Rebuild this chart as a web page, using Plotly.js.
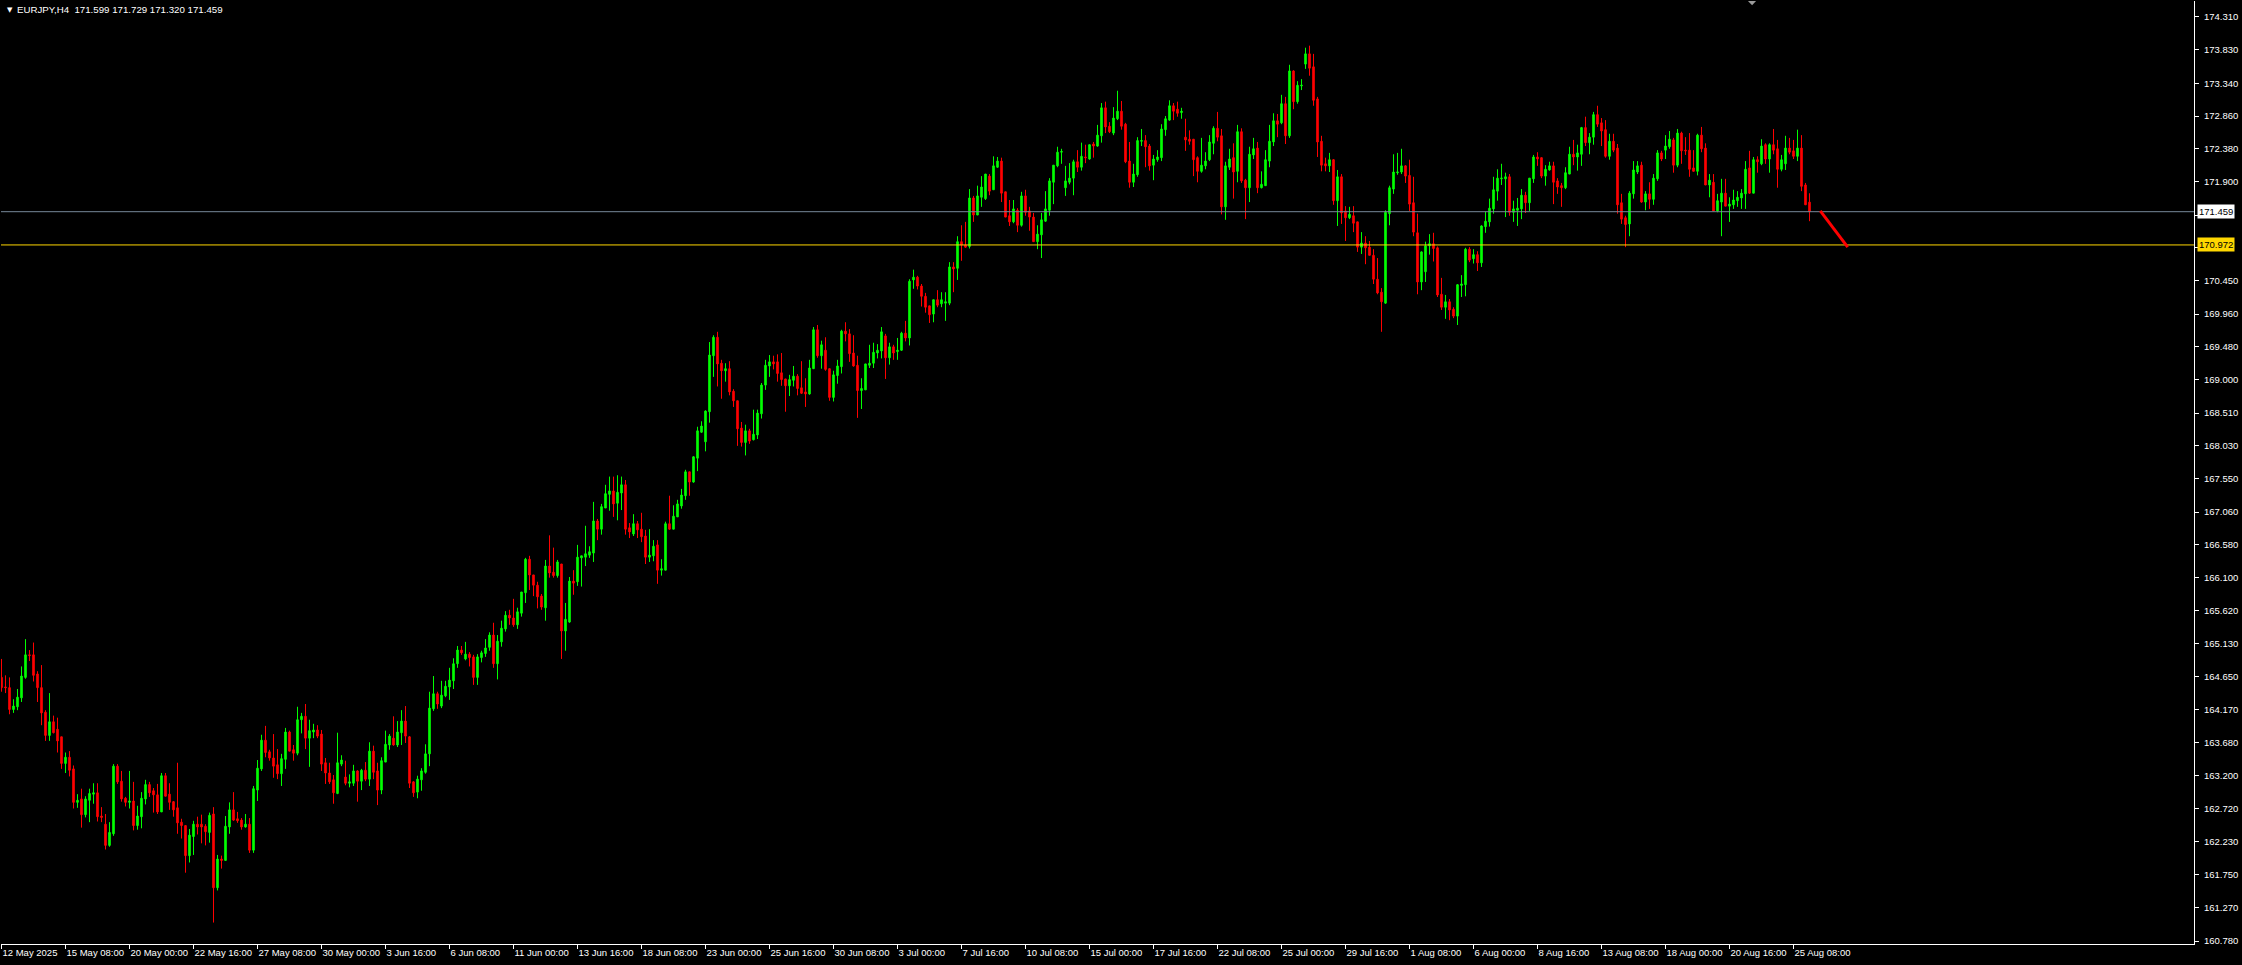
<!DOCTYPE html>
<html>
<head>
<meta charset="utf-8">
<script src="https://cdn.plot.ly/plotly-3.0.1.min.js"></script>
<style>
html,body{margin:0;padding:0;background:#000;overflow:hidden;}
#chart{width:2242px;height:965px;}
</style>
</head>
<body>
<div id="chart"></div>
<script>
// EURJPY H4, bar 0 = 12 May 2025 16:00
const symbolTitle = "EURJPY,H4\u00A0\u00A0171.599 171.729 171.320 171.459";

const openP = [
164.64,164.50,164.49,164.17,164.21,164.34,164.64,164.97,164.97,164.69,
164.49,164.13,163.79,163.99,163.88,163.77,163.38,163.47,163.30,162.81,
162.86,162.63,162.84,162.93,162.95,162.61,162.49,162.18,162.35,163.34,
163.12,162.87,162.81,162.83,162.47,162.60,162.86,163.07,162.98,162.92,
162.67,163.20,162.93,162.82,162.73,162.52,162.47,162.03,162.31,162.49,
162.49,162.46,162.37,162.64,161.56,161.98,161.96,162.45,162.70,162.57,
162.55,162.45,162.49,162.11,162.99,163.30,163.72,163.55,163.46,163.36,
163.23,163.44,163.84,163.58,163.53,164.02,164.07,163.75,163.84,163.87,
163.81,163.39,163.24,163.14,162.94,163.37,163.18,163.09,163.09,163.27,
163.12,163.28,163.15,163.56,163.27,162.99,163.40,163.65,163.75,163.65,
163.83,164.00,163.77,163.11,162.96,163.14,163.25,163.52,164.18,164.40,
164.22,164.37,164.50,164.59,164.84,165.04,164.91,164.98,164.94,164.64,
164.93,164.99,165.08,165.26,164.84,165.16,165.35,165.55,165.51,165.41,
165.58,165.88,166.37,166.14,165.99,165.83,165.66,166.27,166.18,166.13,
166.30,165.32,165.45,166.05,166.04,166.39,166.40,166.43,166.46,166.93,
166.81,167.12,167.32,167.37,167.19,167.34,167.46,166.83,166.74,166.89,
166.81,166.71,166.40,166.42,166.58,166.21,166.21,166.89,166.81,166.99,
167.15,167.30,167.65,167.50,167.85,168.23,168.09,168.53,169.35,169.62,
169.24,169.13,169.16,168.83,168.69,168.29,168.08,168.25,168.12,168.19,
168.50,168.92,169.20,169.26,169.26,169.10,169.01,168.91,168.99,169.05,
168.88,168.82,168.79,169.16,169.73,169.35,169.43,169.16,168.74,169.06,
169.19,169.71,169.67,169.39,169.21,168.84,168.85,169.21,169.24,169.39,
169.42,169.64,169.32,169.48,169.41,169.43,169.68,169.61,170.46,170.50,
170.37,170.22,170.08,169.96,170.17,170.11,170.12,170.12,170.65,170.63,
171.02,170.97,170.95,171.66,171.41,171.67,171.65,171.98,171.78,172.11,
172.20,171.75,171.40,171.31,171.48,171.26,171.69,171.47,171.38,171.02,
171.12,171.32,171.48,171.89,172.13,172.33,171.81,171.89,171.95,172.19,
172.11,172.26,172.23,172.45,172.42,172.57,172.98,172.71,172.61,172.82,
172.93,172.74,172.20,171.89,172.00,172.49,172.50,172.42,172.14,172.22,
172.25,172.66,172.80,173.01,172.96,172.91,172.55,172.52,172.52,172.25,
172.05,172.13,172.22,172.46,172.68,172.57,171.53,172.11,172.25,172.05,
172.63,171.92,171.81,172.29,172.39,171.81,171.84,172.20,172.48,172.79,
172.76,173.04,172.57,173.52,173.07,173.30,173.62,173.77,173.58,173.11,
172.49,172.16,172.13,172.22,171.62,171.97,171.47,171.37,171.40,171.31,
170.94,171.00,170.94,170.82,170.47,170.28,170.12,171.43,171.79,172.03,
172.04,172.13,171.99,171.59,171.15,170.43,170.58,170.96,170.99,170.93,
170.25,170.06,170.14,170.03,169.93,170.38,170.39,170.91,170.77,170.83,
170.71,171.24,171.31,171.50,171.76,171.94,171.94,171.97,171.45,171.48,
171.50,171.70,171.59,171.94,172.26,172.25,171.98,172.07,172.13,171.91,
171.84,171.81,172.01,172.30,172.26,172.30,172.69,172.47,172.55,172.88,
172.76,172.66,172.27,172.49,172.39,171.59,171.37,171.28,171.72,172.04,
172.14,171.60,171.72,171.64,171.94,172.32,172.36,172.41,172.51,172.14,
172.61,172.36,172.36,172.10,172.05,172.58,172.39,171.85,171.89,171.47,
171.60,171.73,171.54,171.56,171.62,171.66,171.72,172.10,171.73,172.22,
172.16,172.44,172.23,172.44,172.38,172.08,172.16,172.39,172.35,172.27,
172.39,171.85,171.599];

const highP = [
164.91,164.67,164.64,164.32,164.47,164.80,165.20,165.04,165.15,164.73,
164.82,164.16,164.41,164.08,164.05,163.77,163.54,163.56,163.35,162.93,
163.01,162.90,163.01,163.09,163.09,162.74,162.64,162.52,163.37,163.37,
163.27,162.89,163.27,163.11,162.76,162.96,163.14,163.11,163.02,163.08,
163.24,163.24,163.09,162.83,163.39,162.57,162.47,162.42,162.54,162.60,
162.63,162.49,162.66,162.74,162.04,162.03,162.61,162.81,162.96,162.67,
162.58,162.64,162.58,163.05,163.43,163.80,163.93,163.58,163.81,163.59,
163.52,163.90,163.86,163.65,164.21,164.12,164.25,164.02,163.96,163.94,
163.87,163.46,163.39,163.21,163.83,163.50,163.42,163.22,163.36,163.28,
163.30,163.40,163.69,163.64,163.39,163.47,163.86,163.81,164.07,164.00,
164.16,164.22,163.78,163.12,163.20,163.31,163.66,164.43,164.66,164.43,
164.59,164.59,164.78,164.92,165.10,165.10,165.16,165.01,164.97,164.98,
165.03,165.20,165.30,165.44,165.26,165.47,165.61,165.63,165.79,165.66,
165.89,166.39,166.42,166.14,166.04,165.86,166.36,166.72,166.54,166.36,
166.30,165.73,166.11,166.21,166.58,166.42,166.86,166.56,167.21,166.96,
167.18,167.46,167.58,167.58,167.60,167.58,167.53,166.90,167.03,166.93,
167.05,166.80,166.81,166.65,166.65,166.37,166.92,167.30,167.16,167.24,
167.40,167.68,167.65,167.88,168.31,168.39,168.55,169.55,169.65,169.70,
169.29,169.24,169.27,168.86,168.69,168.38,168.34,168.28,168.56,168.56,
168.95,169.29,169.36,169.35,169.37,169.39,169.01,169.07,169.20,169.08,
169.27,169.02,169.29,169.77,169.80,169.57,169.62,169.16,169.13,169.29,
169.73,169.84,169.74,169.65,169.35,169.02,169.23,169.51,169.54,169.52,
169.77,169.67,169.54,169.51,169.61,169.70,169.86,170.47,170.61,170.52,
170.40,170.27,170.08,170.17,170.31,170.28,170.28,170.72,170.72,171.10,
171.26,171.31,171.79,171.69,171.84,171.98,172.01,172.01,172.27,172.26,
172.25,171.75,171.63,171.63,171.51,171.75,171.78,171.53,171.44,171.26,
171.44,171.76,171.95,172.14,172.41,172.38,172.13,172.17,172.22,172.36,
172.47,172.44,172.44,172.48,172.73,173.05,173.07,172.77,172.99,173.23,
173.08,172.76,172.48,172.16,172.55,172.67,172.58,172.45,172.29,172.36,
172.74,172.86,173.09,173.05,173.07,172.98,172.82,172.65,172.52,172.27,
172.54,172.33,172.58,172.71,172.92,172.67,172.19,172.38,172.46,172.73,
172.68,171.94,172.41,172.54,172.48,172.05,172.36,172.73,172.90,172.89,
173.17,173.14,173.61,173.53,173.37,173.40,173.86,173.89,173.77,173.14,
172.57,172.25,172.32,172.23,172.07,172.01,171.54,171.53,171.54,171.31,
171.16,171.10,171.03,170.91,170.78,170.34,171.48,171.84,172.30,172.32,
172.38,172.14,172.22,171.97,171.43,170.88,171.02,171.13,171.15,170.95,
170.49,170.24,170.18,170.06,170.40,170.53,170.93,170.94,170.91,170.88,
171.26,171.46,171.65,171.97,172.08,172.16,172.03,172.01,171.62,171.66,
171.79,171.75,171.95,172.29,172.33,172.25,172.14,172.19,172.19,171.95,
171.88,172.11,172.41,172.51,172.44,172.70,172.85,172.61,172.92,173.01,
172.83,172.80,172.60,172.60,172.45,171.72,171.40,171.76,172.20,172.20,
172.19,171.76,171.89,172.01,172.36,172.35,172.58,172.64,172.54,172.67,
172.63,172.55,172.61,172.36,172.60,172.70,172.46,172.01,172.01,171.72,
171.94,171.94,171.67,171.78,171.76,171.79,172.20,172.35,172.26,172.27,
172.52,172.46,172.46,172.67,172.51,172.29,172.57,172.54,172.51,172.66,
172.58,171.88,171.729];

const lowP = [
164.43,164.41,164.10,164.12,164.16,164.28,164.62,164.88,164.58,164.28,
163.94,163.71,163.71,163.82,163.54,163.30,163.24,163.19,162.72,162.73,
162.44,162.59,162.52,162.79,162.53,162.52,162.12,162.16,162.32,163.08,
162.82,162.75,162.72,162.40,162.41,162.43,162.78,162.89,162.66,162.64,
162.67,162.90,162.70,162.60,162.35,162.28,161.78,161.93,162.04,162.34,
162.21,162.18,162.22,161.05,161.52,161.84,161.96,162.35,162.54,162.51,
162.41,162.44,162.07,162.07,162.83,163.27,163.47,163.42,163.17,163.15,
163.05,163.30,163.56,163.42,163.50,163.82,163.59,163.33,163.75,163.75,
163.27,163.08,163.08,162.79,162.93,163.34,163.06,163.03,163.05,162.82,
162.99,163.12,163.05,163.15,162.77,162.93,163.40,163.58,163.64,163.62,
163.65,163.68,163.02,162.89,162.87,162.98,163.23,163.34,164.15,164.18,
164.19,164.35,164.31,164.47,164.78,164.97,164.89,164.80,164.53,164.53,
164.86,164.94,165.03,164.78,164.61,165.09,165.31,165.41,165.38,165.35,
165.53,165.73,165.92,165.83,165.65,165.63,165.47,166.10,166.10,166.10,
164.91,165.03,165.44,165.85,165.98,165.97,166.27,166.39,166.33,166.65,
166.73,167.12,167.08,166.99,166.94,167.09,166.73,166.68,166.71,166.68,
166.62,166.30,166.33,166.34,166.01,166.13,166.21,166.80,166.81,166.99,
167.11,167.24,167.30,167.49,167.66,168.22,167.95,168.37,169.04,168.90,
168.72,168.97,168.77,168.60,168.03,168.02,167.89,168.06,168.11,168.13,
168.43,168.85,169.04,169.15,168.97,168.91,168.53,168.76,168.90,168.77,
168.79,168.60,168.78,169.16,169.32,169.16,169.13,168.69,168.68,168.94,
169.09,169.56,169.26,169.19,168.44,168.57,168.85,169.17,169.17,169.31,
169.31,169.01,169.22,169.29,169.29,169.42,169.56,169.50,170.33,170.32,
170.07,169.98,169.83,169.84,170.06,170.06,169.86,170.09,170.28,170.46,
170.74,170.93,170.92,171.31,171.41,171.53,171.63,171.70,171.78,172.10,
171.60,171.38,171.25,171.29,171.16,171.24,171.40,171.18,171.02,170.91,
170.78,171.31,171.40,171.57,172.11,172.16,171.69,171.86,171.70,172.04,
172.06,172.17,172.22,172.25,172.41,172.47,172.61,172.61,172.58,172.80,
172.66,172.17,171.81,171.82,171.97,172.42,172.11,172.06,171.92,172.19,
172.20,172.57,172.79,172.80,172.85,172.82,172.35,172.44,171.98,171.89,
172.03,172.08,172.20,172.30,172.49,171.42,171.34,172.07,171.65,171.89,
171.88,171.35,171.60,172.23,171.73,171.80,171.84,172.11,172.42,172.55,
172.74,172.45,172.54,172.96,173.04,173.24,173.55,173.45,173.01,172.26,
172.05,172.05,172.04,171.56,171.25,171.28,171.03,171.35,171.16,170.87,
170.84,170.69,170.82,170.40,170.25,169.70,170.11,171.26,171.72,172.00,
172.01,171.88,171.47,171.10,170.25,170.31,170.43,170.83,170.73,170.21,
170.02,169.89,169.87,169.90,169.80,170.21,170.22,170.72,170.70,170.59,
170.65,171.15,171.24,171.43,171.62,171.85,171.38,171.40,171.31,171.25,
171.35,171.44,171.47,171.88,172.13,171.95,171.84,172.06,171.57,171.72,
171.53,171.79,172.01,172.14,172.06,172.13,172.42,172.30,172.44,172.70,
172.42,172.25,172.22,172.33,171.43,171.28,170.94,171.10,171.65,172.01,
171.59,171.48,171.50,171.56,171.91,172.20,172.23,172.38,172.03,172.11,
172.16,172.29,171.97,172.05,171.99,172.33,171.85,171.67,171.47,171.45,
171.10,171.54,171.31,171.50,171.53,171.50,171.50,171.72,171.73,172.03,
172.14,172.16,172.03,172.30,171.81,172.05,172.07,172.30,172.23,172.20,
171.76,171.56,171.320];

const closeP = [
164.49,164.49,164.17,164.22,164.35,164.66,164.97,164.96,164.67,164.49,
164.12,163.79,163.99,163.83,163.71,163.38,163.47,163.28,162.81,162.84,
162.63,162.86,162.94,162.95,162.60,162.59,162.18,162.37,163.34,163.11,
162.86,162.81,162.83,162.47,162.61,162.87,163.07,162.95,162.92,162.67,
163.20,162.90,162.81,162.70,162.51,162.47,162.03,162.33,162.49,162.45,
162.45,162.38,162.62,161.56,161.98,161.96,162.46,162.70,162.55,162.54,
162.45,162.49,162.11,163.01,163.31,163.72,163.54,163.46,163.34,163.23,
163.45,163.84,163.56,163.53,164.02,164.07,163.75,163.86,163.87,163.78,
163.37,163.24,163.11,162.95,163.39,163.43,163.09,163.11,163.27,163.12,
163.28,163.15,163.56,163.25,162.99,163.42,163.66,163.78,163.65,163.84,
164.00,163.78,163.09,162.95,163.15,163.27,163.52,164.19,164.40,164.25,
164.38,164.51,164.60,164.84,165.04,165.00,164.98,164.93,164.64,164.94,
165.00,165.07,165.26,164.84,165.17,165.36,165.55,165.51,165.41,165.60,
165.89,166.37,166.14,165.99,165.82,165.67,166.27,166.17,166.13,166.33,
165.32,165.49,166.05,166.02,166.40,166.42,166.45,166.48,166.93,166.81,
167.14,167.33,167.37,167.18,167.35,167.46,166.81,166.77,166.89,166.80,
166.70,166.40,166.43,166.56,166.21,166.23,166.89,166.81,167.00,167.18,
167.31,167.65,167.50,167.87,168.25,168.32,168.54,169.36,169.62,169.23,
169.13,169.16,168.82,168.69,168.28,168.08,168.25,168.10,168.20,168.51,
168.92,169.21,169.26,169.23,169.09,169.00,168.91,169.00,169.05,168.87,
168.80,168.79,169.17,169.73,169.35,169.51,169.15,168.74,169.07,169.20,
169.71,169.67,169.38,169.20,168.84,168.87,169.23,169.24,169.40,169.43,
169.70,169.32,169.48,169.39,169.43,169.68,169.61,170.44,170.50,170.37,
170.22,170.06,169.95,170.17,170.09,170.17,170.14,170.65,170.62,171.02,
170.97,170.94,171.66,171.41,171.69,171.82,172.01,171.76,172.13,172.20,
171.73,171.38,171.31,171.50,171.26,171.69,171.45,171.38,171.02,171.13,
171.34,171.50,171.91,172.14,172.33,172.34,171.91,171.95,172.19,172.11,
172.27,172.25,172.44,172.42,172.58,172.98,172.70,172.63,172.83,172.93,
172.71,172.19,171.89,172.01,172.50,172.50,172.41,172.13,172.23,172.26,
172.67,172.82,173.01,172.93,172.90,172.93,172.51,172.49,172.22,172.05,
172.14,172.20,172.48,172.68,172.55,171.53,172.13,172.23,172.04,172.63,
171.91,171.81,172.30,172.38,171.81,171.86,172.22,172.49,172.79,172.74,
173.04,172.57,173.52,173.07,173.31,173.31,173.77,173.56,173.09,172.48,
172.14,172.13,172.22,171.62,171.97,171.44,171.37,171.42,171.29,170.94,
171.00,170.93,170.82,170.47,170.27,170.14,171.45,171.81,172.04,172.04,
172.13,171.98,171.57,171.16,170.43,170.87,170.96,170.99,170.92,170.24,
170.06,170.14,170.02,169.93,170.39,170.40,170.91,170.75,170.83,170.71,
171.25,171.32,171.51,171.78,171.95,171.95,171.97,171.45,171.50,171.51,
171.70,171.59,171.95,172.26,172.23,171.98,172.08,172.13,171.89,171.82,
171.81,172.03,172.30,172.26,172.32,172.69,172.47,172.55,172.88,172.74,
172.64,172.27,172.49,172.36,171.56,171.35,171.27,171.73,172.07,172.13,
171.60,171.72,171.64,171.95,172.32,172.23,172.42,172.52,172.14,172.61,
172.35,172.35,172.08,172.05,172.58,172.38,171.85,171.92,171.47,171.62,
171.73,171.54,171.57,171.63,171.67,171.73,172.08,171.73,172.22,172.19,
172.42,172.23,172.44,172.36,172.08,172.22,172.39,172.33,172.27,172.39,
171.83,171.56,171.459];

// time axis labels (every 16 H4 bars)
const timeTickLabels = ["12 May 2025","15 May 08:00","20 May 00:00","22 May 16:00","27 May 08:00","30 May 00:00",
"3 Jun 16:00","6 Jun 08:00","11 Jun 00:00","13 Jun 16:00","18 Jun 08:00","23 Jun 00:00","25 Jun 16:00",
"30 Jun 08:00","3 Jul 00:00","7 Jul 16:00","10 Jul 08:00","15 Jul 00:00","17 Jul 16:00","22 Jul 08:00",
"25 Jul 00:00","29 Jul 16:00","1 Aug 08:00","6 Aug 00:00","8 Aug 16:00","13 Aug 08:00","18 Aug 00:00",
"20 Aug 16:00","25 Aug 08:00"];
const timeTickStep = 16;

// price axis labels
const priceTickLabels = ["174.310","173.830","173.340","172.860","172.380","171.900","171.410","170.930","170.450",
"169.960","169.480","169.000","168.510","168.030","167.550","167.060","166.580","166.100","165.620",
"165.130","164.650","164.170","163.680","163.200","162.720","162.230","161.750","161.270","160.780"];

// horizontal levels
const bidLevel = 171.459;
const userLevel = 170.972;
// user trend line (bar index, price)
const trendBars = [454.7, 461.55];
const trendPrices = [171.47, 170.94];

const barIdx = openP.map((_, i) => i);
const timeTickVals = timeTickLabels.map((_, i) => i * timeTickStep);
// the two labels hidden behind the price boxes
const hiddenPriceLabels = ["171.410","170.930"];

const W = 2242, H = 965;
const mL = 1, mR = 48, mT = 1, mB = 21;
const plotW = W - mL - mR;

const FONT = "Liberation Sans, Arial, sans-serif";

const trace = {
  type: "candlestick",
  x: barIdx,
  open: openP, high: highP, low: lowP, close: closeP,
  increasing: {line: {color: "#00ff00", width: 1}, fillcolor: "#00ff00"},
  decreasing: {line: {color: "#ff0000", width: 1}, fillcolor: "#ff0000"},
  whiskerwidth: 0,
  hoverinfo: "skip",
  showlegend: false
};

const layout = {
  width: W, height: H,
  margin: {l: mL, r: mR, t: mT, b: mB, pad: 0},
  paper_bgcolor: "#000000",
  plot_bgcolor: "#000000",
  boxgap: 0.45,
  showlegend: false,
  font: {family: FONT, size: 9.5, color: "#ffffff"},
  xaxis: {
    range: [-0.125, -0.125 + plotW / 4],
    rangeslider: {visible: false},
    showgrid: false, zeroline: false,
    showline: true, linecolor: "#ffffff", linewidth: 1,
    ticks: "outside", ticklen: 4, tickcolor: "#ffffff", tickwidth: 1,
    tickmode: "array", tickvals: timeTickVals, ticktext: timeTickLabels,
    tickangle: 0,
    ticklabelposition: "outside right",
    ticklabelstandoff: 0,
    tickfont: {family: FONT, size: 9.5, color: "#ffffff"},
    fixedrange: true
  },
  yaxis: {
    side: "right",
    range: [160.736, 174.544],
    showgrid: false, zeroline: false,
    showline: true, linecolor: "#ffffff", linewidth: 1,
    ticks: "outside", ticklen: 4, tickcolor: "#ffffff", tickwidth: 1,
    tickmode: "array",
    tickvals: priceTickLabels.map(Number),
    ticktext: priceTickLabels.map(t => hiddenPriceLabels.indexOf(t) < 0 ? t : ""),
    tickfont: {family: FONT, size: 9.5, color: "#ffffff"},
    ticklabelstandoff: 3,
    fixedrange: true
  },
  shapes: [
    {type: "line", xref: "paper", x0: 0, x1: 1, yref: "y", y0: bidLevel, y1: bidLevel,
     line: {color: "#778899", width: 1}},
    {type: "line", xref: "paper", x0: 0, x1: 1, yref: "y", y0: userLevel, y1: userLevel,
     line: {color: "#ffd700", width: 1}},
    {type: "line", xref: "x", yref: "y", x0: trendBars[0], y0: trendPrices[0], x1: trendBars[1], y1: trendPrices[1],
     line: {color: "#ff0000", width: 3}},
    // chart-shift marker at the top
    {type: "path", xref: "paper", yref: "paper",
     path: "M 0.7966 1 L 0.8003 1 L 0.7985 0.9955 Z",
     fillcolor: "#9a9a9a", line: {width: 0}}
  ],
  annotations: [
    {xref: "paper", yref: "paper", x: 0, y: 1, xanchor: "left", yanchor: "top",
     xshift: 4, yshift: -3, showarrow: false, text: "\u25BC",
     font: {family: "DejaVu Sans", size: 7, color: "#ffffff"}},
    {xref: "paper", yref: "paper", x: 0, y: 1, xanchor: "left", yanchor: "top",
     xshift: 14, yshift: -1, showarrow: false, text: symbolTitle,
     font: {family: FONT, size: 9.7, color: "#ffffff"}},
    {xref: "paper", yref: "y", x: 1, y: bidLevel, xanchor: "left", yanchor: "middle",
     xshift: 3, showarrow: false, text: bidLevel.toFixed(3),
     bgcolor: "#ffffff", borderpad: 1, font: {family: FONT, size: 9.5, color: "#000000"}},
    {xref: "paper", yref: "y", x: 1, y: userLevel, xanchor: "left", yanchor: "middle",
     xshift: 3, showarrow: false, text: userLevel.toFixed(3),
     bgcolor: "#ffd700", borderpad: 1, font: {family: FONT, size: 9.5, color: "#000000"}}
  ]
};

Plotly.newPlot("chart", [trace], layout, {staticPlot: true, displayModeBar: false});
</script>
</body>
</html>
